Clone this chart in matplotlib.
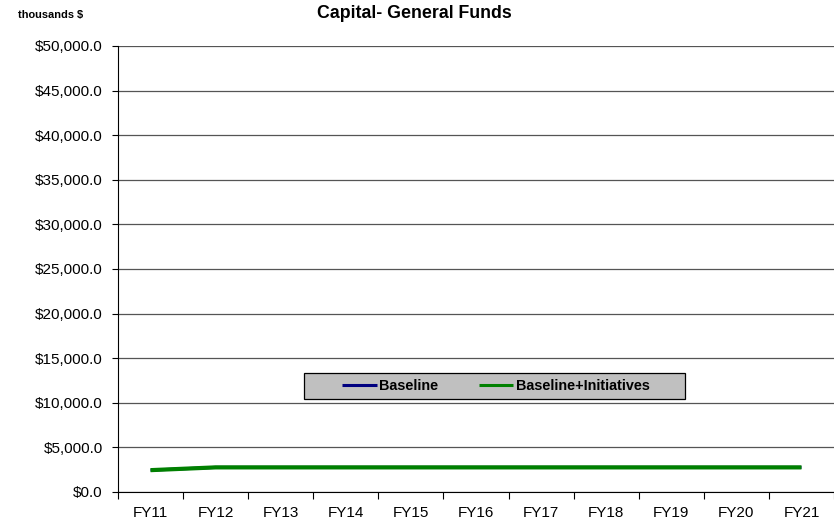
import matplotlib
matplotlib.use("Agg")
import matplotlib.pyplot as plt
from matplotlib.ticker import FuncFormatter, FixedLocator, NullFormatter
from matplotlib.patches import Rectangle

plt.rcParams['font.family'] = ['Liberation Sans', 'DejaVu Sans']

years = ["FY11", "FY12", "FY13", "FY14", "FY15", "FY16", "FY17", "FY18", "FY19", "FY20", "FY21"]
baseline = [2450, 2760, 2760, 2760, 2760, 2760, 2760, 2760, 2760, 2760, 2760]
baseline_init = [2450, 2760, 2760, 2760, 2760, 2760, 2760, 2760, 2760, 2760, 2760]

W, H = 834, 521
L, R, T, B = 118, 834, 46, 492
fig = plt.figure(figsize=(W / 100, H / 100), dpi=100)
ax = fig.add_axes([L / W, 1 - B / H, (R - L) / W, (B - T) / H])

x = list(range(len(years)))
ax.plot(x, baseline, color='#000080', lw=2.2, label='Baseline', solid_capstyle='butt', zorder=3)
ax.plot(x, baseline_init, color='#008000', lw=3.0, label='Baseline+Initiatives', solid_capstyle='butt', zorder=3)

ax.set_xlim(-0.5, len(years) - 0.5)
ax.set_ylim(0, 50000)
ax.set_yticks(range(0, 50001, 5000))
ax.yaxis.set_major_formatter(FuncFormatter(lambda v, p: "${:,.1f}".format(v)))
ax.yaxis.grid(True, color='#555555', lw=0.9)
ax.set_axisbelow(True)

ax.xaxis.set_major_locator(FixedLocator([i - 0.5 for i in range(len(years) + 1)]))
ax.xaxis.set_major_formatter(NullFormatter())
ax.xaxis.set_minor_locator(FixedLocator(x))
ax.set_xticklabels(years, minor=True)
ax.tick_params(axis='x', which='minor', length=0, labelsize=11, pad=10)
ax.tick_params(axis='x', which='major', length=5, width=0.8, direction='out')
ax.tick_params(axis='y', length=4, width=0.8, direction='out', labelsize=11, pad=7)

for s in ['top', 'right']:
    ax.spines[s].set_visible(False)
ax.spines['left'].set_color('black')
ax.spines['bottom'].set_color('black')

fig.text(18 / W, 1 - 15 / H, "thousands $", fontsize=7.9, fontweight='bold', va='center', ha='left')
fig.text(414 / W, 1 - 14 / H, "Capital- General Funds", fontsize=12.8, fontweight='bold', va='center', ha='center')

# legend box
bx0, bx1, by0, by1 = 304, 685, 373, 399
box = Rectangle(((bx0 - L) / (R - L), (B - by1) / (B - T)), (bx1 - bx0) / (R - L), (by1 - by0) / (B - T),
                transform=ax.transAxes, facecolor='#c0c0c0', edgecolor='black', lw=0.9, zorder=5, clip_on=False)
ax.add_patch(box)
leg = ax.legend(loc='center', bbox_to_anchor=(((bx0 + bx1) / 2 - L) / (R - L) + 0.002, (B - (by0 + by1) / 2) / (B - T)),
                ncol=2, frameon=False, prop={'weight': 'bold', 'size': 10.4},
                handlelength=2.4, handletextpad=0.15, columnspacing=2.8, borderaxespad=0)
leg.set_zorder(6)
for l in leg.get_lines():
    l.set_linewidth(2.2)

fig.savefig("out.png", dpi=100)
